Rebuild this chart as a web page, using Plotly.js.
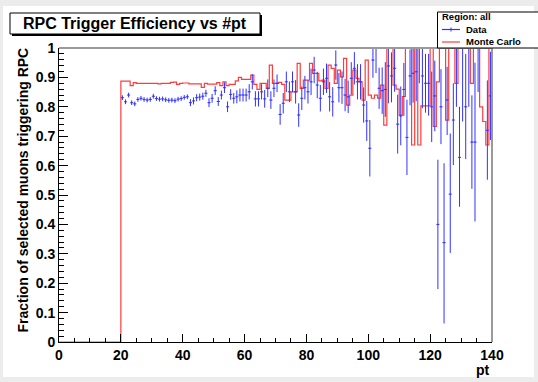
<!DOCTYPE html>
<html>
<head>
<meta charset="utf-8">
<script src="https://cdn.plot.ly/plotly-3.0.1.min.js"></script>
<style>
  html, body { margin: 0; padding: 0; background: #ffffff; }
  #chart { width: 538px; height: 382px; }
</style>
</head>
<body>
<div id="chart"></div>
<script>
// pt binning: 1 GeV bins from 0 to 140
const ptMin = 0;
const ptMax = 140;
const binWidth = 1;
const dataFirstBin = 20;   // measured efficiency exists from pt = 20 upwards

// Measured efficiency per bin (pt 20 ... 139), null = empty bin
const dataEff = [
  0.831, 0.817, 0.840, 0.814, 0.810, 0.825, 0.829, 0.825, 0.823, 0.825,
  0.836, 0.828, 0.826, 0.827, 0.824, 0.822, 0.823, 0.821, 0.826, 0.828,
  0.832, 0.834, 0.814, 0.820, 0.831, 0.833, 0.836, 0.846, 0.814, 0.829,
  0.855, 0.818, 0.840, 0.865, 0.800, 0.842, 0.829, 0.834, 0.840, 0.840,
  0.840, 0.851, 0.885, 0.827, 0.827, 0.851, 0.827, 0.863, 0.823, 0.863,
  0.880, 0.774, 0.812, 0.885, 0.851, 0.885, 0.851, 0.772, 0.829, 0.865,
  0.851, 0.885, 0.925, 0.874, 0.829, 0.885, 0.897, 0.834, 0.817, 0.942,
  0.865, 0.865, 0.840, 0.834, 0.897, 0.931, 0.885, 0.885, 0.806, 0.752,
  0.659, 0.959, 1.000, 0.863, 0.855, 0.859, 0.939, 0.905, 0.931, 0.741,
  0.769, 0.859, 0.696, 0.905, 0.914, 0.919, 1.000, 0.905, 0.880, 0.880,
  0.800, 0.837, 0.400, 0.800, 0.338, 0.823, 0.503, 0.755, 1.000, 0.628,
  1.000, 0.800, 1.000, 0.680, 0.680, 1.000, null,  null,  0.720, 0.837
];

// Upper uncertainty of the measured efficiency
const dataErrUp = [
  0.008, 0.008, 0.008, 0.008, 0.008, 0.008, 0.008, 0.008, 0.008, 0.008,
  0.008, 0.008, 0.008, 0.008, 0.008, 0.008, 0.008, 0.008, 0.008, 0.008,
  0.008, 0.008, 0.012, 0.012, 0.012, 0.012, 0.012, 0.012, 0.015, 0.015,
  0.015, 0.015, 0.015, 0.018, 0.018, 0.018, 0.018, 0.022, 0.022, 0.022,
  0.022, 0.026, 0.026, 0.026, 0.026, 0.026, 0.030, 0.030, 0.030, 0.030,
  0.030, 0.035, 0.035, 0.035, 0.035, 0.035, 0.040, 0.040, 0.040, 0.040,
  0.040, 0.045, 0.045, 0.045, 0.045, 0.045, 0.050, 0.050, 0.050, 0.050,
  0.050, 0.055, 0.055, 0.055, 0.055, 0.055, 0.060, 0.060, 0.060, 0.068,
  0.096, 0.041, 0.000, 0.070, 0.079, 0.093, 0.061, 0.080, 0.069, 0.100,
  0.100, 0.090, 0.128, 0.090, 0.086, 0.081, 0.000, 0.095, 0.100, 0.100,
  0.120, 0.120, 0.220, 0.128, 0.270, 0.113, 0.206, 0.125, 0.000, 0.172,
  0.000, 0.180, 0.000, 0.159, 0.270, 0.000, null,  null,  0.170, 0.150
];

// Lower uncertainty of the measured efficiency
const dataErrDown = [
  0.008, 0.008, 0.008, 0.008, 0.008, 0.008, 0.008, 0.008, 0.008, 0.008,
  0.008, 0.008, 0.008, 0.008, 0.008, 0.008, 0.008, 0.008, 0.008, 0.008,
  0.008, 0.008, 0.012, 0.012, 0.012, 0.012, 0.012, 0.012, 0.015, 0.015,
  0.015, 0.015, 0.015, 0.018, 0.018, 0.018, 0.018, 0.022, 0.022, 0.022,
  0.022, 0.026, 0.026, 0.026, 0.026, 0.026, 0.030, 0.030, 0.030, 0.030,
  0.030, 0.035, 0.035, 0.035, 0.035, 0.035, 0.040, 0.040, 0.040, 0.040,
  0.040, 0.045, 0.045, 0.045, 0.045, 0.045, 0.050, 0.050, 0.050, 0.050,
  0.050, 0.055, 0.055, 0.055, 0.055, 0.055, 0.060, 0.060, 0.060, 0.068,
  0.096, 0.060, 0.085, 0.070, 0.079, 0.093, 0.127, 0.090, 0.080, 0.100,
  0.100, 0.090, 0.128, 0.100, 0.100, 0.100, 0.120, 0.110, 0.100, 0.110,
  0.120, 0.120, 0.220, 0.127, 0.275, 0.119, 0.200, 0.153, 0.200, 0.168,
  0.250, 0.178, 0.200, 0.159, 0.270, 0.150, null,  null,  0.168, 0.150
];

// Simulated efficiency per bin (pt 0 ... 139)
const mcEff = [
  0, 0, 0, 0, 0, 0, 0, 0, 0, 0,
  0, 0, 0, 0, 0, 0, 0, 0, 0, 0,
  0.887, 0.887, 0.887, 0.872, 0.882, 0.880, 0.880, 0.880, 0.880, 0.880,
  0.880, 0.880, 0.878, 0.880, 0.880, 0.880, 0.883, 0.884, 0.876, 0.880,
  0.881, 0.881, 0.878, 0.878, 0.878, 0.878, 0.866, 0.880, 0.877, 0.877,
  0.877, 0.882, 0.872, 0.885, 0.872, 0.876, 0.876, 0.888, 0.900, 0.893,
  0.893, 0.893, 0.908, 0.876, 0.859, 0.880, 0.880, 0.863, 0.942, 0.880,
  0.880, 0.883, 0.876, 0.823, 0.823, 0.851, 0.851, 0.948, 0.863, 0.891,
  0.891, 0.948, 0.914, 0.914, 0.888, 0.891, 0.863, 0.942, 0.931, 0.880,
  0.925, 0.902, 0.965, 0.806, 0.840, 0.925, 0.897, 0.885, 0.823, 0.959,
  0.840, 0.829, 0.840, 0.829, 0.874, 0.738, 1.000, 1.000, 0.874, 0.860,
  0.772, 0.835, 1.000, 1.000, 0.670, 1.000, 0.670, 0.803, 0.803, 0.803,
  1.000, 0.733, 0.885, 1.000, 1.000, 0.755, 1.000, 1.000, 0.880, 1.000,
  1.000, 1.000, 1.000, 0.880, 1.000, 1.000, 0.800, 0.750, 0.670, 1.000
];

// Text
const titleText = 'RPC Trigger Efficiency vs #pt';
const xTitle = 'pt';
const yTitle = 'Fraction of selected muons triggering RPC';
const legendHeader = 'Region: all';
const legendData = 'Data';
const legendMC = 'Monte Carlo';

// ---------------------------------------------------------------
const W = 538, H = 382;
const M = { l: 59, r: 46, t: 48, b: 40 };
const PW = W - M.l - M.r, PH = H - M.t - M.b;
const fx = px => (px - M.l) / PW;      // page pixel -> paper x
const fy = py => (H - M.b - py) / PH;  // page pixel -> paper y

const FONT = 'Liberation Sans, Arial, Helvetica, sans-serif';
const BLUE = 'rgb(50,50,255)';
const RED = 'rgb(255,60,60)';

// bin centres for measured points, bin edges for the simulated histogram
const dataX = dataEff.map((_, i) => ptMin + (dataFirstBin + i + 0.5) * binWidth);
const mcEdges = mcEff.map((_, i) => ptMin + i * binWidth).concat([ptMax]);
const mcStep = mcEff.concat([mcEff[mcEff.length - 1]]);

const traces = [
  {
    type: 'scatter', mode: 'lines', x: mcEdges, y: mcStep,
    line: { shape: 'hv', color: RED, width: 1.2 },
    hoverinfo: 'skip', showlegend: false
  },
  {
    type: 'scatter', mode: 'markers', x: dataX, y: dataEff,
    marker: { size: 1, color: BLUE },
    error_y: { type: 'data', symmetric: false, array: dataErrUp, arrayminus: dataErrDown,
               color: BLUE, thickness: 1, width: 0 },
    error_x: { type: 'constant', value: binWidth / 2, color: BLUE, thickness: 1, width: 0 },
    hoverinfo: 'skip', showlegend: false
  }
];

const tickFont = { family: FONT, size: 14, color: '#000', weight: 'bold' };

const shapes = [
  // page card with a soft grey surround
  { type: 'rect', xref: 'paper', yref: 'paper', layer: 'below',
    x0: fx(3), x1: fx(534), y0: fy(377), y1: fy(6),
    fillcolor: '#ffffff', line: { width: 0 } },
  // grey frame on the top and right side of the plot area
  { type: 'line', xref: 'paper', yref: 'paper', x0: 0, x1: 1, y0: 1, y1: 1,
    line: { color: '#9a9a9a', width: 2 } },
  { type: 'line', xref: 'paper', yref: 'paper', x0: 1, x1: 1, y0: 0, y1: 1,
    line: { color: '#9a9a9a', width: 2 } },
  // title box with shadow
  { type: 'rect', xref: 'paper', yref: 'paper',
    x0: fx(12), x1: fx(262), y0: fy(36), y1: fy(15),
    fillcolor: '#000', line: { width: 0 } },
  { type: 'rect', xref: 'paper', yref: 'paper',
    x0: fx(10), x1: fx(260), y0: fy(34), y1: fy(13),
    fillcolor: '#fff', line: { color: '#000', width: 1 } },
  // legend box
  { type: 'rect', xref: 'paper', yref: 'paper',
    x0: fx(437.5), x1: fx(545), y0: fy(48), y1: fy(12),
    fillcolor: '#fff', line: { color: '#000', width: 1 } },
  // legend symbols
  { type: 'line', xref: 'paper', yref: 'paper',
    x0: fx(442), x1: fx(460), y0: fy(29.5), y1: fy(29.5),
    line: { color: BLUE, width: 1.2 } },
  { type: 'line', xref: 'paper', yref: 'paper',
    x0: fx(451), x1: fx(451), y0: fy(27.5), y1: fy(31.5),
    line: { color: BLUE, width: 1 } },
  { type: 'line', xref: 'paper', yref: 'paper',
    x0: fx(442), x1: fx(460), y0: fy(42), y1: fy(42),
    line: { color: RED, width: 1.2 } }
];

const annotations = [
  { text: titleText, xref: 'paper', yref: 'paper', x: fx(135), y: fy(23.5),
    xanchor: 'center', yanchor: 'middle', showarrow: false,
    font: { family: FONT, size: 16, color: '#000', weight: 'bold' } },
  { text: legendHeader, xref: 'paper', yref: 'paper', x: fx(440), y: fy(16.5),
    xanchor: 'left', yanchor: 'middle', showarrow: false,
    font: { family: FONT, size: 9.5, color: '#000', weight: 'bold' } },
  { text: legendData, xref: 'paper', yref: 'paper', x: fx(463.5), y: fy(29.5),
    xanchor: 'left', yanchor: 'middle', showarrow: false,
    font: { family: FONT, size: 9.5, color: '#000', weight: 'bold' } },
  { text: legendMC, xref: 'paper', yref: 'paper', x: fx(463.5), y: fy(42),
    xanchor: 'left', yanchor: 'middle', showarrow: false,
    font: { family: FONT, size: 9.5, color: '#000', weight: 'bold' } },
  { text: yTitle, xref: 'paper', yref: 'paper', x: fx(22), y: fy(46),
    xanchor: 'center', yanchor: 'top', textangle: -90, showarrow: false,
    font: { family: FONT, size: 14, color: '#000', weight: 'bold' } },
  { text: xTitle, xref: 'paper', yref: 'paper', x: fx(492), y: fy(370),
    xanchor: 'right', yanchor: 'middle', showarrow: false,
    font: { family: FONT, size: 14, color: '#000', weight: 'bold' } }
];

const layout = {
  width: W, height: H,
  margin: { l: M.l, r: M.r, t: M.t, b: M.b, pad: 0 },
  paper_bgcolor: '#ececec',
  plot_bgcolor: '#ffffff',
  showlegend: false,
  xaxis: {
    range: [ptMin, ptMax], dtick: 20, tick0: 0,
    ticks: 'inside', ticklen: 8, tickwidth: 1, tickcolor: '#000',
    minor: { dtick: 5, ticks: 'inside', ticklen: 4, tickcolor: '#000', tickwidth: 1 },
    showline: true, linecolor: '#000', linewidth: 1, mirror: false,
    showgrid: false, zeroline: false,
    tickfont: tickFont
  },
  yaxis: {
    range: [0, 1], dtick: 0.1, tick0: 0,
    ticks: 'inside', ticklen: 9, tickwidth: 1, tickcolor: '#000',
    minor: { dtick: 0.02, ticks: 'inside', ticklen: 5, tickcolor: '#000', tickwidth: 1 },
    showline: true, linecolor: '#000', linewidth: 1, mirror: false,
    showgrid: false, zeroline: false,
    tickfont: tickFont
  },
  shapes: shapes,
  annotations: annotations
};

Plotly.newPlot('chart', traces, layout, { displayModeBar: false, staticPlot: true });
</script>
</body>
</html>
